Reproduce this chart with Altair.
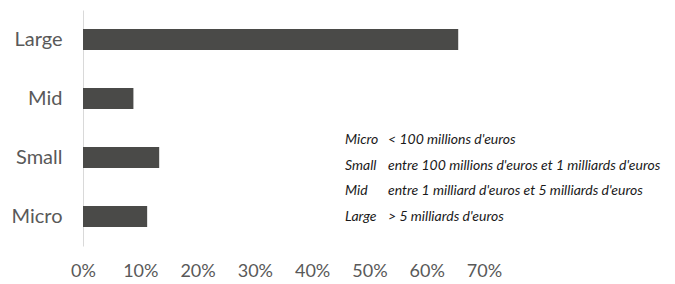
import altair as alt
import pandas as pd

categories = ["Large", "Mid", "Small", "Micro"]
shares = [0.655, 0.088, 0.133, 0.112]

legend_keys = ["Micro", "Small", "Mid", "Large"]
legend_desc = [
    "< 100 millions d'euros",
    "entre 100 millions d'euros et 1 milliards d'euros",
    "entre 1 milliard d'euros et 5 milliards d'euros",
    "> 5 milliards d'euros",
]
tick_values = [0, 0.1, 0.2, 0.3, 0.4, 0.5, 0.6, 0.7]

FONT = "Lato"

bars_df = pd.DataFrame({"cat": categories, "share": shares})

bars = alt.Chart(bars_df).mark_bar(color="#4a4a48").encode(
    x=alt.X("share:Q", scale=alt.Scale(domain=[0, 0.7], nice=False),
            axis=alt.Axis(values=tick_values, format=".0%", title=None, grid=False,
                          domain=False, ticks=False, labelFont=FONT, labelFontSize=18,
                          labelColor="#595959", labelPadding=16, labelFlush=False)),
    y=alt.Y("cat:N", sort=categories,
            scale=alt.Scale(paddingInner=0.64, paddingOuter=0.32),
            axis=alt.Axis(title=None, ticks=False, domainColor="#d9d9d9", domainWidth=1,
                          labelFont=FONT, labelFontSize=20, labelColor="#595959",
                          labelPadding=21, minExtent=75, maxExtent=75)),
)

rows = list(range(len(legend_keys)))
leg_df = pd.DataFrame({"key": legend_keys, "desc": legend_desc, "row": rows})

row_scale = alt.Scale(domain=[-5.065, 4.13], reverse=True, nice=False, zero=False)

key_text = alt.Chart(leg_df).mark_text(
    align="left", baseline="middle", font=FONT, fontSize=14, fontStyle="italic", color="#1a1a1a"
).encode(
    x=alt.value(262),
    y=alt.Y("row:Q", scale=row_scale, axis=None),
    text="key:N",
)
desc_text = alt.Chart(leg_df).mark_text(
    align="left", baseline="middle", font=FONT, fontSize=14, fontStyle="italic", color="#1a1a1a"
).encode(
    x=alt.value(305),
    y=alt.Y("row:Q", scale=row_scale, axis=None),
    text="desc:N",
)

chart = alt.layer(bars, key_text, desc_text).resolve_scale(y="independent").properties(
    width=401, height=236,
    padding={"left": 0, "top": 2, "right": 0, "bottom": 0},
).configure_view(stroke=None)

chart.save("out.html", embed_options={"renderer": "svg", "actions": False})
